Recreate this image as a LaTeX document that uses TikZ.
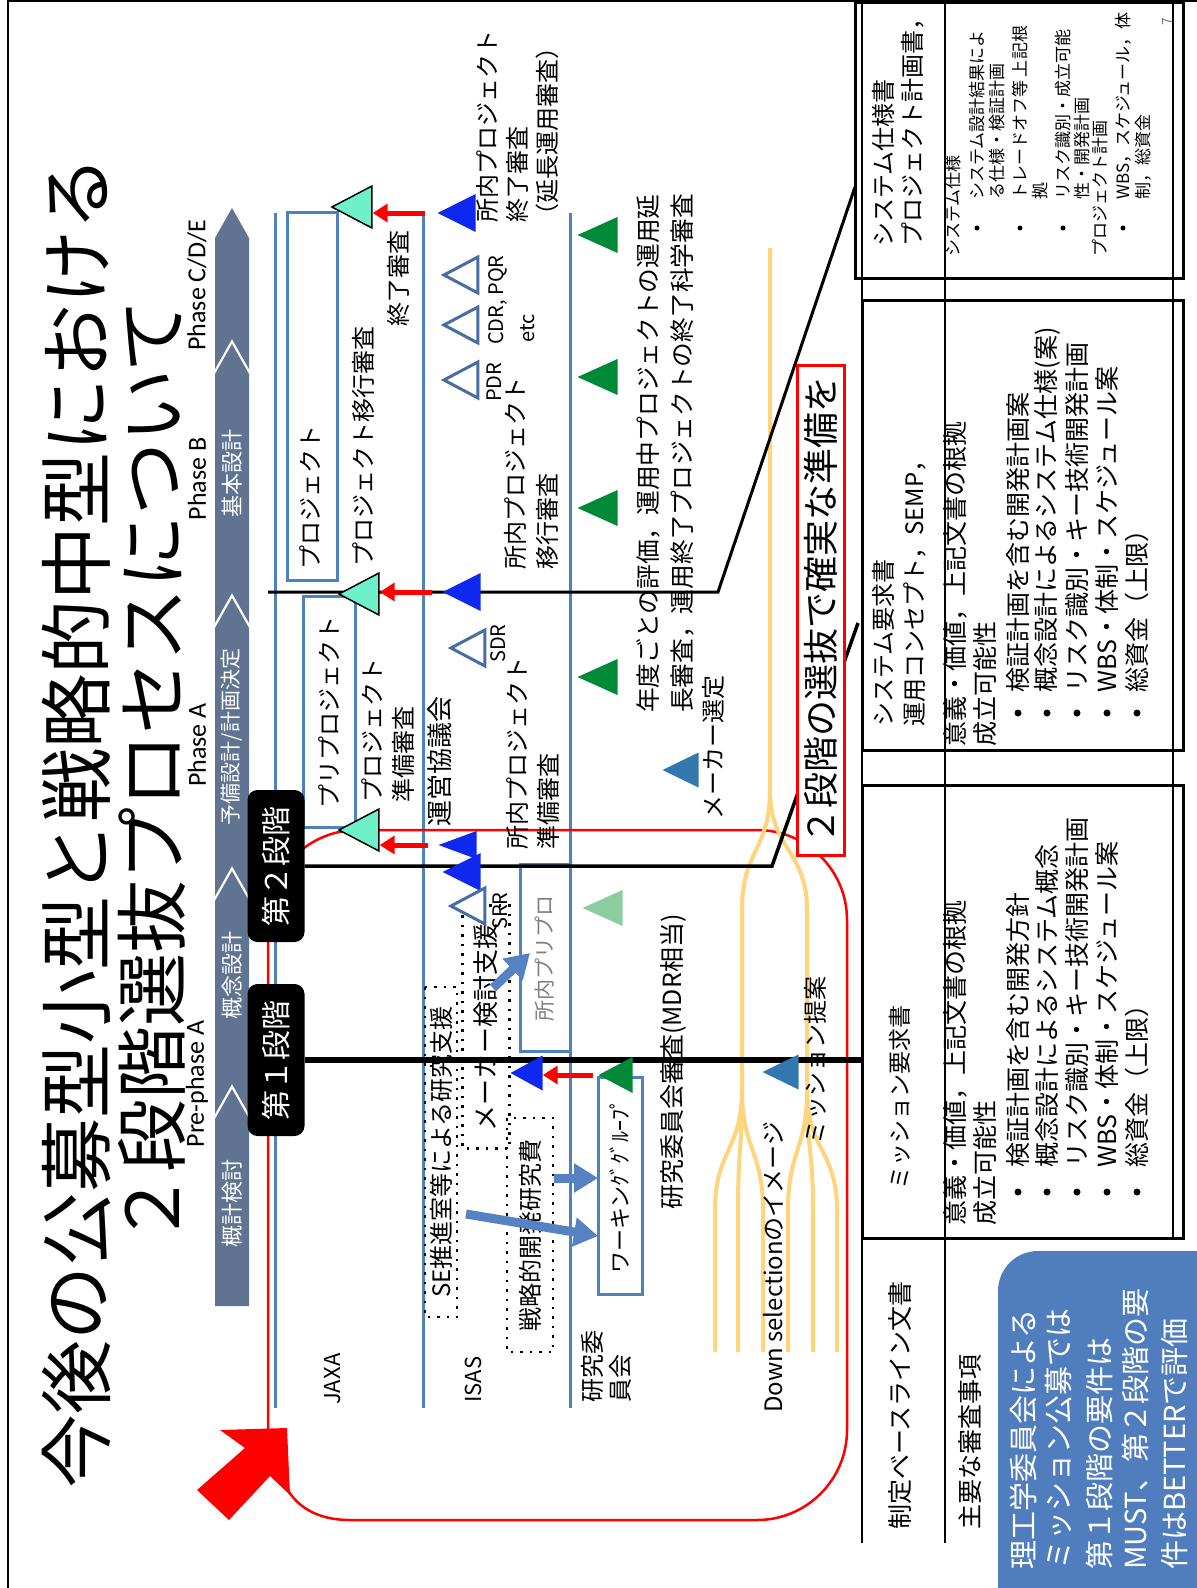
\documentclass[tikz,border=0pt]{standalone}
\usepackage{fontspec}
\setmainfont{Noto Sans CJK JP}
\newfontfamily\phfont{Carlito}
\usetikzlibrary{shapes.geometric,arrows.meta}
\newcommand{\fsz}[1]{\fontsize{#1}{#1}\selectfont}
\definecolor{laneblue}{RGB}{79,129,189}
\definecolor{bandblue}{RGB}{96,115,145}
\definecolor{aqua}{RGB}{110,240,200}
\definecolor{pureblue}{RGB}{15,40,240}
\definecolor{triblue}{RGB}{70,110,165}
\definecolor{dkgreen}{RGB}{0,138,55}
\definecolor{ltgreen}{RGB}{140,205,160}
\definecolor{stblue}{RGB}{50,120,175}
\definecolor{arrblue}{RGB}{85,130,195}
\definecolor{yel}{RGB}{255,212,125}
\definecolor{notefill}{RGB}{80,125,190}

\begin{document}
\begin{tikzpicture}[x=1pt, y=-1pt,
    lbl/.style={rotate=90, anchor=west, inner sep=0pt, font=\fsz{24}},
    lane/.style={draw=laneblue, line width=3pt},
    pbox/.style={draw=laneblue, fill=white, line width=3pt, rotate=90,
                 inner sep=0pt, font=\fsz{24}},
    dotbox/.style={draw, line width=2.5pt, dash pattern=on 2.5pt off 7pt,
                   rotate=90, inner sep=0pt, font=\fsz{24}},
    tri/.style={isosceles triangle, isosceles triangle stretches,
                shape border rotate=180, inner sep=0pt,
                minimum width=38pt, minimum height=38pt, anchor=apex},
    aq/.style={tri, draw=black, fill=aqua, line width=1.5pt,
               minimum width=42pt, minimum height=40pt},
    bl/.style={tri, fill=pureblue},
    op/.style={tri, draw=triblue, fill=white, line width=3pt,
               minimum width=36pt, minimum height=34pt},
    gr/.style={tri, fill=dkgreen, minimum width=36pt, minimum height=40pt},
    st/.style={tri, fill=stblue, minimum width=35pt, minimum height=36pt},
    rarr/.style={draw=red, line width=5pt, -{Triangle[length=15pt,width=18pt]}},
    barr/.style={draw=arrblue, line width=9pt, -{Triangle[length=24pt,width=28pt]}},
    stage/.style={fill=black, rounded corners=10pt, rotate=90, text=white,
                  font=\fsz{30}, minimum width=152pt, minimum height=57pt, inner sep=0pt},
    ybr/.style={draw=yel, line width=4pt},
    rloop/.style={draw=red, line width=2.5pt}]

\useasboundingbox (0,0) rectangle (1197,1588);
\fill[white] (0,0) rectangle (1197,1588);
\draw[line width=1.5pt] (8,1588) -- (8,1) -- (1197,1);

% title
\node[lbl, font=\fsz{74}] (ttl1) at (76,1489) {今後の公募型小型と戦略的中型における};
\node[lbl, font=\fsz{73}] (ttl2) at (152,1246) {２段階選抜プロセスについて};

% phase band
\foreach \ytip/\ybot in {208/369,344/623,598/896,871/1114}
  \fill[bandblue] (215,\ytip+30) -- (232,\ytip) -- (249,\ytip+30) -- (249,\ybot)
    -- (232,\ybot-30) -- (215,\ybot) -- cycle;
\fill[bandblue] (215,1119) -- (232,1089) -- (249,1119) -- (249,1306) -- (215,1306) -- cycle;
\node[rotate=90, text=white, font=\fsz{22}] (pd1) at (232,1203) {概計検討};
\node[rotate=90, text=white, font=\fsz{22}] (pd2) at (232,975) {概念設計};
\node[rotate=90, text=white, font=\fsz{21}] (pd3) at (232,737) {予備設計/計画決定};
\node[rotate=90, text=white, font=\fsz{22}] (pd4) at (232,473) {基本設計};
\node[rotate=90, font=\phfont\fsz{26}] (ph1) at (197,1084) {Pre-phase A};
\node[rotate=90, font=\phfont\fsz{26}] (ph2) at (197,745) {Phase A};
\node[rotate=90, font=\phfont\fsz{26}] (ph3) at (197,479) {Phase B};
\node[rotate=90, font=\phfont\fsz{26}] (ph4) at (197,285) {Phase C/D/E};

% lanes
\draw[lane] (275,213) -- (275,1408);
\draw[lane] (423,213) -- (423,1408);
\draw[lane] (570,213) -- (570,1408);

% red loop
\draw[rloop, rounded corners=90pt] (268,1430) -- (268,830) -- (847,830) -- (847,1520) -- (350,1520);
\draw[rloop] (350,1520) .. controls (315,1520) and (295,1505) .. (285,1485);
\fill[red] (287,1428) -- (290,1495) -- (270,1476) -- (229,1520) -- (197,1490)
  -- (245,1448) -- (220,1430) -- cycle;

% down selection
\draw[ybr] (770,248) -- (770,790) .. controls (770,850) and (742,850) .. (742,910) -- (742,1090);
\draw[ybr] (770,790) .. controls (770,850) and (807,850) .. (807,910) -- (807,1090);
\foreach \sx/\ex in {742/715,742/738,742/763,807/788,807/813,807/837}
  \draw[ybr] (\sx,1090) .. controls (\sx,1150) and (\ex,1150) .. (\ex,1210) -- (\ex,1352);

% boxes
\node[pbox, minimum width=368pt, minimum height=50pt] (prj) at (312,396) {};
\node[pbox, minimum width=231pt, minimum height=52pt] (pre) at (329,712) {プリプロジェクト};
\node[pbox, minimum width=187pt, minimum height=50pt, text=gray, font=\fsz{21}] (ipp) at (545,958) {所内プリプロ};
\node[pbox, minimum width=217pt, minimum height=44pt, font=\fsz{22}] (wg) at (620,1186) {ワーキンｸﾞｸﾞﾙｰﾌﾟ};
\node[dotbox, minimum width=330pt, minimum height=32pt] (se) at (441,1152) {SE推進室等による研究支援};
\node[dotbox, minimum width=243pt, minimum height=47pt, font=\fsz{26}] (mk) at (486,1027) {メーカー検討支援};
\node[dotbox, minimum width=234pt, minimum height=46pt] (sr) at (530,1235) {戦略的開発研究費};

% stages
\node[stage] (s1) at (276,1060) {第１段階};
\node[stage] (s2) at (276,866) {第２段階};

% links to the table
\coordinate (k0) at (268,592);
\coordinate (k1) at (718,592);
\coordinate (k1t) at (855,187);
\draw[line width=3pt] (k0) -- (k1) -- (k1t);
\coordinate (k2) at (772,866);
\coordinate (k2t) at (858,623);
\draw[line width=3.5pt] (s2.south) -- (k2) -- (k2t);
\coordinate (k3) at (862,1060);
\draw[line width=6pt] (s1.south) -- (k3);
\node[draw=red, fill=white, line width=3pt, rotate=90, minimum width=490pt,
      minimum height=47pt, inner sep=0pt, font=\fsz{36}] (sel) at (821,610) {２段階の選抜で確実な準備を};

% milestones
\node[aq] (aq1) at (330,207) {};
\node[aq] (aq2) at (337,594) {};
\node[aq] (aq3) at (337,830) {};
\node[bl] (bl1) at (437,213) {};
\node[bl] (bl2) at (442,592) {};
\node[bl, minimum width=28pt] (bl3) at (438,845) {};
\node[bl] (bl4) at (442,872) {};
\node[bl, minimum width=35pt, minimum height=32pt] (bl5) at (510,1073) {};
\node[op] (pqr) at (440,275) {};
\node[op] (cdr) at (440,325) {};
\node[op] (pdr) at (440,380) {};
\node[op] (sdr) at (447,648) {};
\node[op] (srr) at (447,906) {};
\node[gr] (g1) at (577,235) {};
\node[gr] (g2) at (577,377) {};
\node[gr] (g3) at (577,508) {};
\node[gr] (g4) at (577,677) {};
\node[gr, fill=ltgreen] (g5) at (582,908) {};
\node[gr, minimum height=34pt] (g6) at (598,1075) {};
\node[st] (mks) at (662,770) {};
\node[st] (mis) at (762,1072) {};

% arrows
\draw[rarr] ([xshift=-12pt]bl1.apex) -- (bl1.apex -| aq1.lower side);
\draw[rarr] ([xshift=-10pt]bl2.apex) -- (bl2.apex -| aq2.lower side);
\draw[rarr] ([xshift=-10pt]bl3.apex) -- (bl3.apex -| aq3.lower side);
\draw[rarr] ([xshift=-5pt]g6.apex) -- (g6.apex -| bl5.lower side);
\coordinate (w1) at (598,1236);
\coordinate (w2) at (598,1178);
\coordinate (s0) at (466,1214);
\coordinate (m0) at (493,988);
\coordinate (ip1) at (530,953);
\draw[barr] (s0) -- (w1);
\draw[barr] (sr.south |- w2) -- (w2);
\draw[barr] (m0) -- (ip1);

% labels
\node[lbl] (prjt) at (310,570) {プロジェクト};
\node[lbl] (l1) at (363,567) {プロジェクト移行審査};
\node[lbl] (l2) at (398,327) {終了審査};
\node[lbl] (l3) at (487,223) {所内プロジェクト};
\node[lbl] (l4) at (517,223) {終了審査};
\node[lbl] (l5) at (547,228) {（延長運用審査）};
\node[lbl, font=\fsz{20}] (l6) at (498,345) {CDR, PQR};
\node[lbl, font=\fsz{20}] (l7) at (528,343) {etc};
\node[lbl, font=\fsz{20}] (l8) at (494,402) {PDR};
\node[lbl] (l9) at (515,570) {所内プロジェクト};
\node[lbl] (l10) at (547,570) {移行審査};
\node[lbl] (l11) at (372,803) {プロジェクト};
\node[lbl] (l12) at (403,803) {準備審査};
\node[lbl, font=\fsz{26}] (l13) at (440,827) {運営協議会};
\node[lbl, font=\fsz{20}] (l14) at (498,663) {SDR};
\node[lbl] (l15) at (517,850) {所内プロジェクト};
\node[lbl] (l16) at (548,850) {準備審査};
\node[lbl, font=\fsz{20}] (l17) at (500,930) {SRR};
\node[lbl, font=\fsz{24.7}] (l18) at (648,713) {年度ごとの評価，運用中プロジェクトの運用延};
\node[lbl, font=\fsz{24.7}] (l19) at (682,713) {長審査，運用終了プロジェクトの終了科学審査};
\node[lbl] (l20) at (713,820) {メーカー選定};
\node[lbl, font=\fsz{25}] (l21) at (673,1210) {研究委員会審査(MDR相当)};
\node[lbl] (l22) at (815,1145) {ミッション提案};
\node[lbl] (l23) at (773,1413) {Down selectionのイメージ};
\node[lbl, font=\fsz{22}] (jaxa) at (333,1405) {JAXA};
\node[lbl, font=\fsz{22}] (isas) at (473,1403) {ISAS};
\node[lbl] (rc1) at (592,1403) {研究委};
\node[lbl] (rc2) at (620,1403) {員会};

% table
\draw[line width=2pt] (862,0) -- (862,1543);
\draw[line width=2pt] (945,0) -- (945,1543);
\draw[line width=2pt] (1173,0) -- (1173,1238);
\draw[line width=3pt] (855,2) rectangle (1183,278);
\draw[line width=3pt] (862,300) rectangle (1183,750);
\draw[line width=3pt] (862,785) rectangle (1183,1238);

\node[lbl] (d1a) at (883,247) {システム仕様書};
\node[lbl] (d1b) at (913,247) {プロジェクト計画書，};
\node[lbl, font=\fsz{17}] (d1c) at (953,257) {システム仕様};
\node[lbl, font=\fsz{17}] (d1d) at (977,200) {システム設計結果によ};
\node[lbl, font=\fsz{17}] (d1e) at (997,200) {る仕様・検証計画};
\node[lbl, font=\fsz{17}] (d1f) at (1020,200) {トレードオフ等 上記根};
\node[lbl, font=\fsz{17}] (d1g) at (1040,200) {拠};
\node[lbl, font=\fsz{17}] (d1h) at (1063,200) {リスク識別・成立可能};
\node[lbl, font=\fsz{17}] (d1i) at (1082,200) {性・開発計画};
\node[lbl, font=\fsz{17}] (d1j) at (1100,257) {プロジェクト計画};
\node[lbl, font=\fsz{17}] (d1k) at (1123,200) {WBS，スケジュール，体};
\node[lbl, font=\fsz{17}] (d1l) at (1143,200) {制，総資金};
\foreach \bx in {977,1020,1063,1123}
  \fill (\bx,228) circle[radius=2.5pt];

\node[lbl] (d2a) at (883,727) {システム要求書};
\node[lbl] (d2b) at (915,727) {運用コンセプト，SEMP，};
\node[lbl, font=\fsz{25}] (d2c) at (955,747) {意義・価値，上記文書の根拠};
\node[lbl, font=\fsz{25}] (d2d) at (985,747) {成立可能性};
\node[lbl, font=\fsz{25}] (d2e) at (1018,693) {検証計画を含む開発計画案};
\node[lbl, font=\fsz{25}] (d2f) at (1047,693) {概念設計によるシステム仕様(案)};
\node[lbl, font=\fsz{25}] (d2g) at (1077,693) {リスク識別・キー技術開発計画};
\node[lbl, font=\fsz{25}] (d2h) at (1107,693) {WBS・体制・スケジュール案};
\node[lbl, font=\fsz{25}] (d2i) at (1137,693) {総資金（上限）};

\node[lbl, font=\fsz{23}] (d3a) at (900,1190) {ミッション要求書};
\node[lbl, font=\fsz{25}] (d3c) at (955,1226) {意義・価値，上記文書の根拠};
\node[lbl, font=\fsz{25}] (d3d) at (985,1226) {成立可能性};
\node[lbl, font=\fsz{25}] (d3e) at (1018,1168) {検証計画を含む開発方針};
\node[lbl, font=\fsz{25}] (d3f) at (1047,1168) {概念設計によるシステム概念};
\node[lbl, font=\fsz{25}] (d3g) at (1077,1168) {リスク識別・キー技術開発計画};
\node[lbl, font=\fsz{25}] (d3h) at (1107,1168) {WBS・体制・スケジュール案};
\node[lbl, font=\fsz{25}] (d3i) at (1137,1168) {総資金（上限）};
\foreach \bx in {1018,1047,1077,1107,1137} {
  \fill (\bx,713) circle[radius=3.5pt];
  \fill (\bx,1192) circle[radius=3.5pt];
}

\node[lbl, font=\fsz{25}] (h1) at (900,1530) {制定ベースライン文書};
\node[lbl, font=\fsz{25}] (h2) at (970,1530) {主要な審査事項};
\node[rotate=90, text=gray, font=\fsz{14}] (pg) at (1167,22) {7};

% note
\fill[notefill, rounded corners=40pt] (998,1251) rectangle (1240,1640);
\node[lbl, text=white, font=\fsz{29}] (n1) at (1023,1570) {理工学委員会による};
\node[lbl, text=white, font=\fsz{29}] (n2) at (1059,1570) {ミッション公募では};
\node[lbl, text=white, font=\fsz{29}] (n3) at (1099,1570) {第１段階の要件は};
\node[lbl, text=white, font=\fsz{29}] (n4) at (1135,1570) {MUST、第２段階の要};
\node[lbl, text=white, font=\fsz{29}] (n5) at (1175,1570) {件はBETTERで評価};
\end{tikzpicture}
\end{document}
